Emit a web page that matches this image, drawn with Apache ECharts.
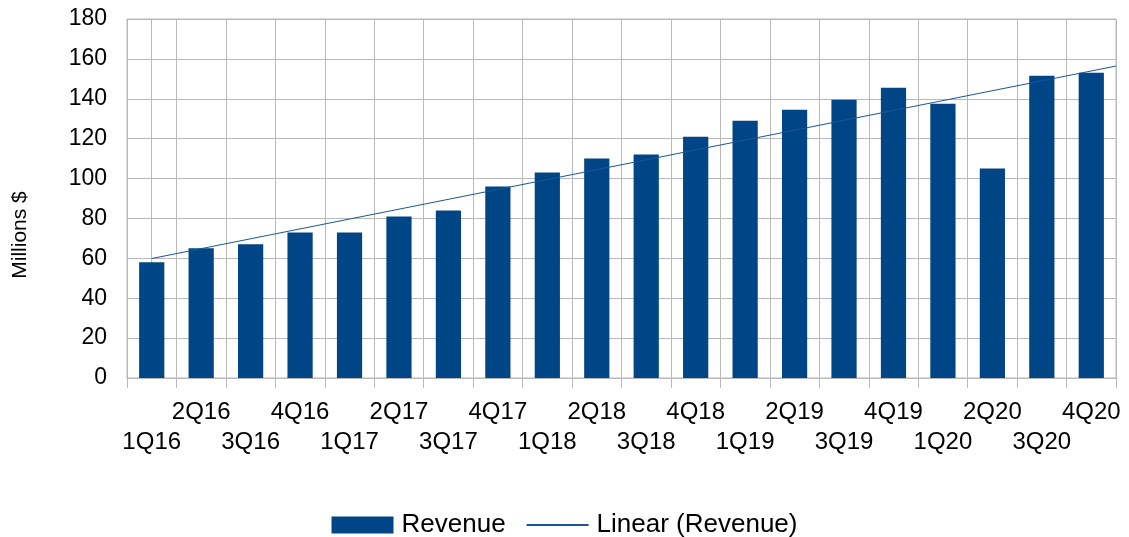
<!DOCTYPE html>
<html>
<head>
    <meta charset="utf-8">
    <title>Revenue</title>
    <script src="https://cdn.jsdelivr.net/npm/echarts@6/dist/echarts.min.js"></script>
    <style type="text/css">
        html, body { margin: 0; padding: 0; background: #fff; }
        #main { width: 1129px; height: 537px; }
    </style>
</head>
<body>
    <div id="main"></div>
    <script type="text/javascript">
        var quarters = ['1Q16', '2Q16', '3Q16', '4Q16', '1Q17', '2Q17', '3Q17', '4Q17',
            '1Q18', '2Q18', '3Q18', '4Q18', '1Q19', '2Q19', '3Q19', '4Q19',
            '1Q20', '2Q20', '3Q20', '4Q20'];
        var revenue = [58, 65, 67, 73, 73, 81, 84, 96, 103, 110,
            112, 121, 129, 134.5, 139.5, 145.5, 137.5, 105, 151.5, 153];
        var yTicks = { min: 0, max: 180, interval: 20 };

        // least squares line through the revenue values (Linear (Revenue))
        var n = revenue.length, sx = 0, sy = 0, sxy = 0, sxx = 0;
        revenue.forEach(function (v, i) {
            sx += i; sy += v; sxy += i * v; sxx += i * i;
        });
        var slope = (n * sxy - sx * sy) / (n * sxx - sx * sx);
        var icpt = (sy - slope * sx) / n;
        var trendEnd = n - 0.5;
        var trend = [[0, icpt], [trendEnd, icpt + slope * trendEnd]];

        var font = 'Liberation Sans';
        var gridCol = '#b9b9b9';
        var chart = echarts.init(document.getElementById('main'));

        var option = {
            animation: false,
            textStyle: { fontFamily: font },
            grid: {
                left: 127, right: 13, top: 19, bottom: 159,
                show: true, borderColor: gridCol, borderWidth: 1
            },
            legend: {
                top: 512,
                left: 'center',
                padding: 0,
                itemWidth: 62,
                itemHeight: 17,
                itemGap: 20,
                textStyle: { fontSize: 26, color: '#000', padding: [0, 0, 0, 3] },
                data: [
                    { name: 'Revenue', icon: 'rect' },
                    { name: 'Linear (Revenue)', itemStyle: { opacity: 0 } }
                ]
            },
            graphic: [{
                type: 'text',
                x: 20, y: 235,
                rotation: Math.PI / 2,
                style: {
                    text: 'Millions $',
                    fontFamily: font,
                    fontSize: 21,
                    fill: '#000',
                    align: 'center',
                    verticalAlign: 'middle'
                }
            }],
            xAxis: [{
                type: 'category',
                data: quarters,
                axisLine: { lineStyle: { color: gridCol } },
                axisTick: { show: true, length: 10, interval: 0, lineStyle: { color: gridCol } },
                splitLine: { show: true, interval: 0, lineStyle: { color: gridCol } },
                axisLabel: {
                    interval: 0,
                    color: '#000',
                    fontSize: 24,
                    lineHeight: 30,
                    margin: 19,
                    formatter: function (v, i) {
                        return i % 2 === 0 ? '\n' + v : v;
                    }
                }
            }, {
                type: 'value',
                min: -0.5,
                max: n - 0.5,
                show: false
            }],
            yAxis: {
                type: 'value',
                min: yTicks.min,
                max: yTicks.max,
                interval: yTicks.interval,
                axisLine: { show: true, lineStyle: { color: gridCol } },
                axisTick: { show: true, length: 12, lineStyle: { color: gridCol } },
                splitLine: { lineStyle: { color: gridCol } },
                axisLabel: { color: '#000', fontSize: 23, margin: 20 }
            },
            series: [{
                name: 'Revenue',
                type: 'bar',
                barWidth: '51%',
                itemStyle: { color: '#004586' },
                data: revenue
            }, {
                name: 'Linear (Revenue)',
                type: 'line',
                xAxisIndex: 1,
                symbol: 'none',
                lineStyle: { color: '#1a5593', width: 1 },
                itemStyle: { color: '#004586' },
                data: trend
            }]
        };
        chart.setOption(option);
    </script>
</body>
</html>
